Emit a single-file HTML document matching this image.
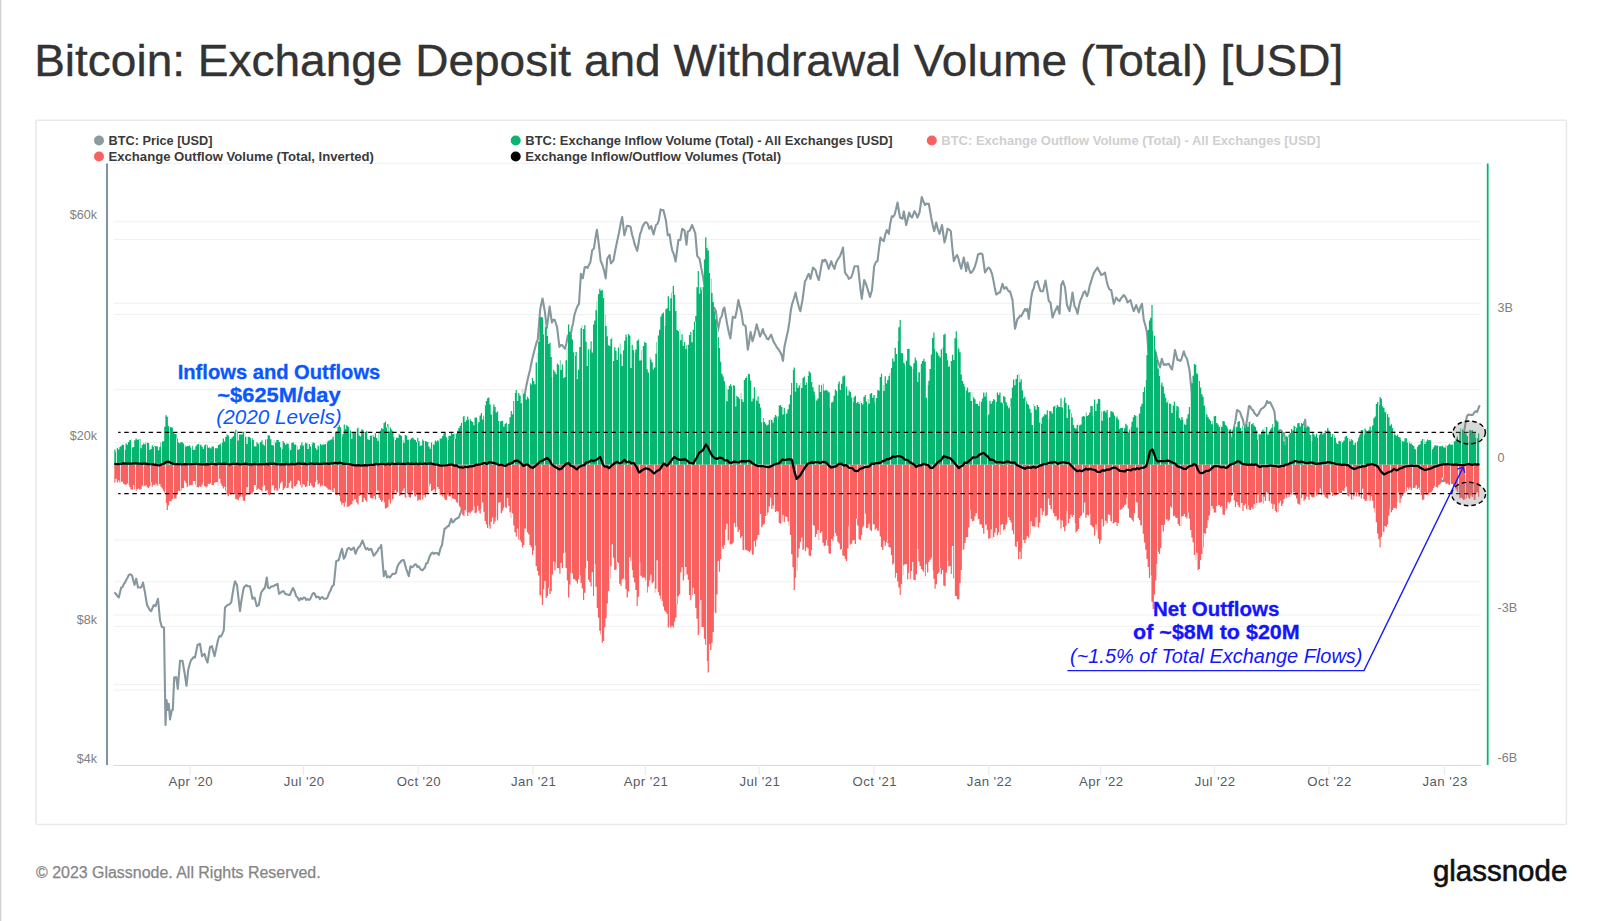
<!DOCTYPE html>
<html lang="en"><head><meta charset="utf-8"><title>Bitcoin: Exchange Deposit and Withdrawal Volume (Total) [USD]</title>
<style>
html,body{margin:0;padding:0;background:#fff}
body{width:1600px;height:921px;overflow:hidden;position:relative;font-family:"Liberation Sans",sans-serif}
svg{position:absolute;left:0;top:0;display:block}
text{font-family:"Liberation Sans",sans-serif}
.title{font-size:45.1px;fill:#333;stroke:#333;stroke-width:0.35px}
.leg{font-size:12.4px;font-weight:700;fill:#3a3a3a}
.legoff{font-size:12.4px;font-weight:700;fill:#cfcfcf}
.ax text{font-size:12.6px;fill:#808080}
.xl text{font-size:13.2px;fill:#555b62;text-anchor:middle;letter-spacing:0.45px}
.grid line{stroke:#f0f0f0;stroke-width:1}
.tick line{stroke:#e9e9e9;stroke-width:1}
.a1{fill:#0a57ff;stroke:#0a57ff;stroke-width:0;text-anchor:middle;font-size:19.8px}
.a2{fill:#1414ff;stroke:#1414ff;stroke-width:0;text-anchor:middle;font-size:19.6px}
.b{font-weight:700;stroke-width:0.3px}
.i{font-style:italic}
</style></head>
<body>
<svg width="1600" height="921" viewBox="0 0 1600 921">
<rect x="0" y="0" width="1600" height="921" fill="#fff"/>
<rect x="0" y="0" width="1.3" height="921" fill="#d2d2d2"/>
<text class="title" x="34.2" y="75.7" textLength="1309" lengthAdjust="spacingAndGlyphs">Bitcoin: Exchange Deposit and Withdrawal Volume (Total) [USD]</text>
<rect x="36" y="120.3" width="1530.4" height="704.2" rx="1.5" fill="#fff" stroke="#e9e9e9" stroke-width="1.6"/>
<g class="grid"><line x1="113.7" x2="1481" y1="163.3" y2="163.3"/><line x1="113.7" x2="1481" y1="221.8" y2="221.8"/><line x1="113.7" x2="1481" y1="239.5" y2="239.5"/><line x1="113.7" x2="1481" y1="303.2" y2="303.2"/><line x1="113.7" x2="1481" y1="314.6" y2="314.6"/><line x1="113.7" x2="1481" y1="389.7" y2="389.7"/><line x1="113.7" x2="1481" y1="442.5" y2="442.5"/><line x1="113.7" x2="1481" y1="539.9" y2="539.9"/><line x1="113.7" x2="1481" y1="581.8" y2="581.8"/><line x1="113.7" x2="1481" y1="615" y2="615"/><line x1="113.7" x2="1481" y1="626.6" y2="626.6"/><line x1="113.7" x2="1481" y1="684.4" y2="684.4"/><line x1="113.7" x2="1481" y1="690.1" y2="690.1"/></g>
<line x1="113.7" x2="1481" y1="765.4" y2="765.4" stroke="#d6d6d6" stroke-width="1"/>
<g class="tick"><line x1="190" x2="190" y1="765" y2="775"/><line x1="303.4" x2="303.4" y1="765" y2="775"/><line x1="418.2" x2="418.2" y1="765" y2="775"/><line x1="532.9" x2="532.9" y1="765" y2="775"/><line x1="645.3" x2="645.3" y1="765" y2="775"/><line x1="759.2" x2="759.2" y1="765" y2="775"/><line x1="874" x2="874" y1="765" y2="775"/><line x1="988.8" x2="988.8" y1="765" y2="775"/><line x1="1100.6" x2="1100.6" y1="765" y2="775"/><line x1="1214.4" x2="1214.4" y1="765" y2="775"/><line x1="1328.9" x2="1328.9" y1="765" y2="775"/><line x1="1444.4" x2="1444.4" y1="765" y2="775"/></g>
<polyline fill="none" stroke="#86989e" stroke-width="2.1" stroke-linejoin="round" stroke-linecap="round" points="115,593 116.2,594.3 117.5,596.2 118.8,597.5 121.2,587.5 122.5,587.2 123.8,584.1 125,582.5 126.2,580 127.5,577.8 128.8,575 130.4,574.2 132,575.5 134.5,585 136.2,578.8 138,587.5 139.6,587.5 141.2,587.5 143,582.5 145,592.5 147,605 148.4,607.5 149.8,610.1 151.2,611.2 153.8,605 155.5,606.2 158,598.8 160,620 161.8,627 164,627.5 165.5,725 166.5,700 168,710 168.8,703.8 170,719.5 171.8,710 172.8,710 174.2,677.5 176.2,677 177.8,688.8 180,660.8 182.5,660.8 184.5,672.5 186.5,685.8 188.2,670 189.8,663.7 191.2,660 192.5,658.5 193.8,657 195,657.5 197.5,645 200,643.8 202,656.2 204.5,653.8 206,659.1 207.5,662.5 210,647 212,646.2 214.5,656.2 216.2,648.7 218,640 219.4,636 220.9,636.5 222.3,634 223.8,630 225,607.5 227.5,605 228.8,604.7 230,603.7 231.2,602.5 232.5,594.3 233.8,586.8 235,581.2 237,585 238.5,598.2 240,611.2 241.2,601.9 242.5,594.4 243.8,587.5 245,586.3 246.2,585.2 247.5,586.2 250,586.2 252.5,598.8 254.5,597.5 256.8,606.2 258.8,605 261.2,592.5 262.5,590.7 263.8,589 265,587.5 266.8,577.5 268,587.5 269.5,588.2 271,586.7 272.5,586.2 273.8,586.1 275,585 276.2,584.9 277.5,583.8 279,593.8 280.6,592.8 282.2,591.4 283.8,591.2 285,593.6 286.2,594.3 287.5,594.6 288.8,594.9 290,595 291.5,590.9 293,588 294.6,591.3 296.2,596.2 297.8,597.7 299.2,600.5 300.8,598.1 302.2,599.4 303.8,597.5 305,597.8 306.2,599.9 307.5,599 308.8,600 310,599.4 311.2,596.9 312.5,593.8 313.8,592.9 315,594.3 316.2,597.3 317.5,596.8 318.8,597.1 320,599.1 321.2,597.6 322.5,597 323.8,598.8 325,598.7 326.2,598.8 327.5,597.5 329,593.3 330.5,590.5 332.1,586.4 333.8,585 336.2,561.2 338.8,560 340.4,553.8 342,548.8 343.8,558.8 345,556.9 346.2,552.9 347.5,548.8 348.8,547.9 350,548.8 351.2,550 353.8,547.5 355.5,553.8 357,550 358.5,547.3 360,546.2 362.5,540.5 365,547.5 366.2,549.3 367.5,548.1 368.8,550 371.2,548.8 373.8,555.8 375,554.4 376.2,552.6 377.5,551.2 378.8,548.2 380,547.8 381.2,545 383.8,576.2 385.5,571.2 387,577.5 388.5,576.3 390,577.5 392.5,573.8 394.1,574 395.8,573.2 397.2,567.3 398.8,563.8 400,562.6 401.2,561 402.5,560.2 403.8,560 406.2,568.8 408.8,576.2 410.5,566.2 411.9,567.3 413.4,566.3 414.8,564.3 416.2,564.5 417.5,567.1 418.8,566.3 420,568.3 421.2,570 422.5,570.3 423.8,568.8 425,567.5 426.2,563.3 427.5,563.2 428.8,558.8 430,555.7 431.2,553.8 432.5,552.5 433.8,553.9 435,553 436.2,553.3 437.5,553.1 438.8,555 440.4,548.7 442,545 444.5,528.8 445.9,528.2 447.3,526.3 448.8,526.2 451.2,518.8 452.5,522.5 453.8,521.6 455,519.6 456.2,518.8 458.8,517.5 461.2,511.2 462.6,505.5 464,500 465.5,499.5 467,495.9 468.5,494.2 470,492 471.3,489.2 472.7,483 474,480 475.9,471.9 477.7,466 479.4,465.3 481,462 482.3,459.6 483.7,454.3 485,451.7 486.4,461.9 487.7,474 490,465 491.3,462.4 492.7,459.7 494,455 495.3,456.4 496.7,461.1 498,462 499.3,461.9 500.7,459.7 502,458 503.5,459.6 504.9,460.5 506.4,463.7 508.2,457.9 510,455 511.3,443.5 512.6,428.2 513.9,416 515.5,418.7 517,420 518.5,415.2 520,412 521.3,409 522.6,404.3 523.9,400 526,387.5 528,378 530,370 532,360 534,352 535.3,347.1 536.5,342.6 537.8,339.4 540.2,309.4 542.5,298.5 544.8,311.2 546.8,328 548.2,318 549.6,306.6 551.9,322.5 553.3,319.7 554.7,319.7 557.1,327.2 559.4,346.9 560.8,345.1 562.2,345 563.6,347.1 565,348.8 566.4,343.3 567.8,335.6 569.2,336 570.6,335.6 571.9,328 573.1,323.2 574.4,315 575.9,310.3 577.5,306 579,303.8 580.9,273.8 582.8,278.4 584.7,267.2 586.1,266.9 587.5,268 588.9,265.1 590.3,262.5 592.2,250.3 594,248.4 595.5,237.6 596.9,229.7 599.1,246.6 600.6,260.6 602.5,265.3 604.1,270.8 605.7,278.4 607.2,258.8 609.6,255 610.9,263.4 613.4,260.6 615,251.8 616.6,243.8 618,237.4 619.4,230.6 620.8,222.7 622.2,217.1 624.4,235.3 626.9,225.9 628.8,226 630.6,226.9 632,234.2 633.4,239 634.7,244.5 635.9,247.4 637.2,250.9 638.6,243.3 640,234.4 641.2,231.3 642.5,226.6 643.8,224.4 645,222.6 646.2,222.3 647.5,223.5 649.4,228.8 651.2,226 653.5,234.4 656,225 657.4,224 658.8,220.3 660.6,209.4 662,210.3 663.4,210 665.9,220.3 667.8,235.3 669.6,234.4 670.9,243.8 672.2,250.3 673.9,254.4 675.6,261.6 677,251.2 678.4,240 680.3,240 682.2,228.8 684.6,230.6 686.5,244.7 687.8,231.6 689.7,230.6 692.1,225 693.7,229.1 695.3,233.4 697.2,255.9 699.6,258.8 701.2,267.9 702.8,275.6 704.7,287.8 706.5,300 708,330 709.5,318 711,322 712.5,312 714,307.5 716,311.2 717.8,331 719.2,323.8 720.6,317.8 721.9,316 723.1,309.6 724.4,307.5 725.8,316.1 727.2,324.4 728.8,332.2 730.4,338.4 732.8,316.9 735.2,317.8 736.8,310.2 738.4,300 739.8,306.4 741.2,311.2 743.1,324.4 745.6,326.2 747.8,349.7 749.2,341.5 750.6,331.9 752.5,341.2 753.9,336.6 755.2,331.3 756.6,324.4 758.3,330 760,336.6 761.4,333.4 762.8,329 764.2,333.6 765.6,335.6 767,338.7 768.4,339.4 769.8,336.8 771.2,334.7 772.5,338.7 773.8,342.1 775,344 776.2,346.1 777.5,348.2 778.8,349.7 780.2,352 781.6,355 783,361 784.4,347 786.2,338.8 788.1,330 789.4,321.9 790.6,311.8 791.9,304.7 793.8,299 795.6,292.5 797.2,300.3 798.7,306.2 800.3,311.2 802.5,300 805,281.2 806.2,279.5 807.5,275.9 808.8,273.8 810.5,278.8 813,267.5 815.5,270 817.1,275.8 818.8,280 820,273.6 821.2,266.5 822.5,260 823.8,261.5 825,259.5 826.2,261.2 828.8,268.8 831.2,261.2 832.9,265.8 834.5,268.8 836,262.9 837.5,260 840,256.2 841.5,252.2 843,247.5 845,272.5 846.2,274.5 847.5,275.8 848.8,278.8 851.2,277.5 852.9,272.5 854.5,266.2 856.2,266.2 858,266.2 859.2,277.4 860.5,289.3 861.8,298.8 864.2,280 865.9,283.6 867.5,288.8 870,297 872,290 874.2,266.2 875.9,262.2 877.5,261.2 879,248.7 880.5,237.5 882.1,239.9 883.8,241.2 885.2,234.7 886.8,230 888.8,233.8 890.2,223.9 891.8,216.2 893.1,216.9 894.5,215 896,209.3 897.5,202.5 900,217.5 902.5,218.8 903.8,211.2 906.2,225 907.8,218.6 909.2,212.5 910.6,216.3 912,217.5 914.5,211.2 916,213.8 917.5,217.5 919.5,212.5 921.8,197 923.4,201.5 925,205 926.2,203.6 927.5,203.9 928.8,203.8 931.2,217.5 932.8,225.4 934.2,231.2 936.2,222.5 937.9,229.5 939.5,233.8 942,225 944.5,242.5 946,236.8 947.5,228.8 949.1,229.6 950.8,231.2 952.2,246.5 953.8,261.2 955.4,257.5 957,255 958.4,258.4 959.8,264.2 961.2,268.8 963.8,257.5 966.2,271.2 967.5,262.5 969,268.8 970.5,273 971.8,272.3 973.2,270 974.5,267.5 976.2,262.4 978,254.5 979.5,253.8 981,253.4 982.5,254.5 985,272.5 986.2,270.7 987.5,268.4 988.8,267.5 990.4,269.7 992,273.8 993.4,280.4 994.8,288 996.2,294.5 997.5,293.8 998.8,292.6 1000,292.5 1002.5,283.8 1004.2,288.8 1006.2,287 1007.5,289.5 1008.8,291.4 1010,291.2 1012.5,300 1015,328.8 1017.5,318.8 1018.8,317.8 1020,315.7 1021.2,316.2 1023.8,311.2 1025,308.9 1026.2,310.8 1027.5,308.8 1028.8,318.8 1031.2,297.5 1032.5,291 1033.8,288.2 1035,282.5 1037.5,281.2 1039,286.5 1040.5,291.2 1043,291.2 1045.5,280.5 1047.1,290.3 1048.8,301.2 1050.5,302.5 1052.5,317.5 1055,311.2 1057.5,306.2 1059.5,313.8 1061.2,285 1063,281.2 1065,287.5 1067,305 1069.5,311.2 1071,302.8 1072.5,292.5 1074.5,306.2 1076,308.5 1077.5,313.8 1079,305.7 1080.5,300 1082,296.9 1083.5,292.6 1085,291.2 1087,296.2 1088.4,292.3 1089.8,285.4 1091.2,281.2 1092.5,276.8 1093.8,273.1 1095,271.2 1097.5,267.5 1098.8,270.4 1100,272.3 1101.2,275 1102.5,274.6 1103.8,273.8 1105,272.5 1106.5,280.4 1108,286.2 1109.6,289.6 1111.2,290 1113.8,303.8 1116.2,297.5 1117.9,300 1119.5,301.2 1120.9,298.2 1122.3,297 1123.8,295 1125,296.5 1126.2,298.4 1127.5,302.5 1129,301.2 1130.5,300 1132.1,306.3 1133.8,311.2 1136.2,305 1138.8,312.5 1140.4,307.1 1142,303.8 1143.8,320 1145.4,325.5 1147,332.5 1148.8,357.5 1150,372 1151.5,362 1153,368 1155,350 1157.5,360 1160,367.5 1161.8,358.8 1163.8,365 1165,364.2 1166.2,365 1167.5,364.1 1168.8,363.8 1170.4,367 1172,369.5 1173.5,360.6 1175,350 1177.5,360 1178.8,359.7 1180,360.9 1181.2,360 1183.8,351.2 1185.4,356.3 1187,358.8 1189.5,370 1191.2,387.5 1192.5,405 1193.5,430 1195,436 1196.5,442 1197.5,456 1199,448 1201,437 1202.5,437.7 1204,441 1205.5,440.9 1207,438 1208.5,440.7 1210,442 1211.4,443.4 1212.8,447 1214.2,449.7 1215.6,448.3 1217,446 1218.3,445.3 1219.7,441.6 1221,440 1223,436 1224.5,438.2 1226,440 1227.5,446.2 1229,450 1230.5,445.9 1232,440 1234,428 1235.5,420.4 1237,410 1238.5,410.9 1240,412 1241.5,416.5 1243,420 1245,431 1247,420 1249,406 1250.3,406.4 1251.7,409.4 1253,410 1254.3,413 1255.7,414.5 1257,416 1258.5,414.2 1260,411 1261.5,408.6 1263,408 1264.3,406.9 1265.7,404.9 1267,401 1268.5,403 1270,402 1271.5,405.1 1273,408 1274.5,412 1276.4,432 1278.2,431.9 1280,430 1281.3,430.4 1282.7,433.3 1284,433 1286.5,446 1289,443 1290.3,443.5 1291.7,441.2 1293,441 1294.6,444.3 1296.1,450.1 1297.7,455 1300,450 1302,430 1303.6,425 1305.2,419.7 1306.5,440 1309,446 1310.2,449.6 1311.5,451.5 1312.8,452.7 1314,457 1315.5,455.5 1317,452 1318.3,449.9 1319.7,451.6 1321,450 1322.3,448.3 1323.7,448.1 1325,448 1326.2,449.5 1327.5,448 1328.8,449.7 1330.4,443.7 1332,440 1333.5,441.1 1335,442 1336.5,446.2 1338,449 1339.3,449.8 1340.7,448.9 1342,448 1343.5,451.4 1345,452 1346.4,451.9 1347.8,453.3 1349.2,450.5 1350.6,450.9 1352,451.7 1353.3,451.2 1354.7,449.9 1356,450 1357.5,446.2 1359,441 1361,434 1362.5,435.4 1364,436 1365.5,437.1 1367,438 1368.5,437.1 1370,434 1372.4,430.8 1374,437 1376,458 1377.4,488.6 1378.6,468 1380,476 1381.3,477.1 1382.7,477.2 1384,478.7 1385.3,478.4 1386.7,480 1388,479 1389.5,483.9 1390.9,485.3 1392.4,489.9 1395,483 1396.3,483.1 1397.7,482.5 1399,480 1400.5,478.1 1402.1,476.2 1403.6,474 1405.1,473.4 1406.5,474.8 1408,475 1409.3,474 1410.7,473.3 1412,472 1413.3,470.2 1414.7,472.8 1416,471 1417.5,469.4 1418.9,467.3 1420.4,465.9 1422,470 1423.5,475 1425,478 1426.5,480.4 1427.9,482.4 1429.3,481.6 1430.6,481.4 1432,480 1433.2,478.9 1434.5,480.6 1435.8,480.5 1437,481 1438.5,482.5 1439.9,482.5 1441.3,480.4 1442.8,481.2 1444.2,480.7 1445.6,479.2 1447,480 1448.3,479.1 1449.7,479.7 1451,478 1452.5,477.3 1454,474 1455.5,471.9 1457,470 1459,453.9 1461.5,432.7 1464,432 1465.5,423.4 1467,416 1468.5,414.5 1470,415 1471.3,414.7 1472.7,415 1474,413 1475.5,411.3 1477,412 1479.4,406"/>
<path d="M114.3,464.8V449.6H115.5V452.2H116.8V448.1H118V449.6H119.3V446.9H120.5V445.9H121.8V444.5H123V445.1H124.3V449.9H125.5V443.6H126.8V444.7H128V442H129.3V440H130.5V439.8H131.8V447.5H133V447H134.2V440.3H135.5V438.5H136.7V439.8H138V439.6H139.2V439.3H140.5V448.2H141.7V445.1H143V443.6H144.2V444.3H145.5V442.5H146.7V442.8H148V443H149.2V450H150.4V449H151.7V445.3H152.9V446.9H154.2V446.1H155.4V446.2H156.7V446.3H157.9V450.2H159.2V447.1H160.4V442.4H161.7V441.6H162.9V441.2H164.2V426.8H165.4V415.3H166.7V416.7H167.9V425.9H169.1V426.9H170.4V427H171.6V427.7H172.9V432.5H174.1V433.7H175.4V433.9H176.6V438.5H177.9V442.4H179.1V443.2H180.4V441.9H181.6V442.3H182.9V443.4H184.1V445H185.4V446.7H186.6V446H187.8V445.9H189.1V445.4H190.3V447.4H191.6V445.7H192.8V449.7H194.1V449.7H195.3V446.3H196.6V444.5H197.8V444H199.1V445.2H200.3V444.7H201.6V446.7H202.8V449.1H204V445.6H205.3V444.3H206.5V445.2H207.8V447.7H209V447.5H210.3V448.4H211.5V446.5H212.8V446.4H214V448H215.3V448.2H216.5V448.2H217.8V444.9H219V444.6H220.3V443.5H221.5V442.7H222.7V438.6H224V441.6H225.2V437H226.5V434.4H227.7V435.5H229V439.2H230.2V439H231.5V437.5H232.7V436.3H234V432.8H235.2V429.7H236.5V431.2H237.7V440.6H238.9V434.6H240.2V434.4H241.4V434.6H242.7V431.7H243.9V431.5H245.2V436.7H246.4V444.1H247.7V436.8H248.9V436.9H250.2V438.3H251.4V437.9H252.7V439.9H253.9V446.3H255.2V446.4H256.4V442.3H257.6V443.7H258.9V443.3H260.1V442H261.4V440.2H262.6V444.6H263.9V445.5H265.1V439.6H266.4V439.2H267.6V435.3H268.9V435.4H270.1V439.3H271.4V444.9H272.6V445.5H273.9V440.2H275.1V442.4H276.3V440.1H277.6V439.9H278.8V442H280.1V447.2H281.3V449H282.6V441.1H283.8V442.9H285.1V444.8H286.3V443.4H287.6V443.7H288.8V448H290.1V450.1H291.3V443H292.5V442.2H293.8V444.6H295V444.5H296.3V446.3H297.5V449.9H298.8V448.9H300V445.3H301.3V442.5H302.5V445.7H303.8V444.8H305V442.8H306.3V443.4H307.5V448.9H308.8V444H310V446.5H311.2V444.3H312.5V442.3H313.7V443H315V448H316.2V449.8H317.5V445.6H318.7V446.6H320V444H321.2V445.2H322.5V444.3H323.7V444.6H325V443.9H326.2V442.7H327.5V440.7H328.7V440.4H329.9V439.8H331.2V439.2H332.4V436.8H333.7V440.2H334.9V432.9H336.2V431.5H337.4V427H338.7V425H339.9V427.3H341.2V436.7H342.4V434H343.7V424.4H344.9V429H346.1V425.2H347.4V426.4H348.6V427.6H349.9V430.4H351.1V438.7H352.4V432.3H353.6V432.7H354.9V432.8H356.1V429.6H357.4V427.6H358.6V435.6H359.9V436.4H361.1V429.5H362.4V429.7H363.6V433.7H364.8V431.9H366.1V431H367.3V439.2H368.6V440.1H369.8V435.8H371.1V435.8H372.3V435.3H373.6V437.1H374.8V433.3H376.1V438H377.3V440.7H378.6V433.1H379.8V430.6H381.1V428H382.3V428.9H383.5V422.9H384.8V421.6H386V427.4H387.3V424.1H388.5V431.4H389.8V427.5H391V429.6H392.3V431.5H393.5V437.2H394.8V440.1H396V437.4H397.3V438.1H398.5V434.2H399.7V435H401V436H402.2V440.3H403.5V443H404.7V435.1H406V435.6H407.2V439.7H408.5V439.7H409.7V439.4H411V438.3H412.2V437.5H413.5V439.3H414.7V440H416V442H417.2V437.8H418.4V441.3H419.7V445.8H420.9V445.5H422.2V439.4H423.4V440.9H424.7V441H425.9V441.6H427.2V442H428.4V446.6H429.7V448.7H430.9V442.5H432.2V443.8H433.4V444.8H434.7V440.6H435.9V441.5H437.1V440.2H438.4V441.4H439.6V438.4H440.9V438.5H442.1V435.9H443.4V433.3H444.6V432.5H445.9V437.4H447.1V439.9H448.4V435.9H449.6V435.7H450.9V432.2H452.1V434.1H453.3V433.7H454.6V438.7H455.8V433.6H457.1V430.7H458.3V427.9H459.6V426.1H460.8V422.9H462.1V417.6H463.3V416H464.6V421.9H465.8V420.2H467.1V416.4H468.3V419.8H469.6V419H470.8V420.9H472V421.9H473.3V425.3H474.5V417.6H475.8V417.5H477V423.7H478.3V422.1H479.5V415.6H480.8V413H482V419.4H483.3V415.7H484.5V405.4H485.8V401H487V398.3H488.2V397.5H489.5V404.5H490.7V414.5H492V410.9H493.2V404.4H494.5V406.9H495.7V412.6H497V411.4H498.2V421.1H499.5V421.4H500.7V421.1H502V420.7H503.2V426.8H504.5V424H505.7V422.8H506.9V432.4H508.2V424.1H509.4V417.3H510.7V411.1H511.9V414.2H513.2V401H514.4V393.1H515.7V390H516.9V401.1H518.2V393H519.4V395.4H520.7V403.2H521.9V389.3H523.2V393.7H524.4V394H525.6V399.6H526.9V396.7H528.1V398.4H529.4V383.1H530.6V384.4H531.9V378.1H533.1V381.1H534.4V384.3H535.6V362.4H536.9V353.6H538.1V341.8H539.4V317H540.6V317H541.8V317.4H543.1V334.3H544.3V327.6H545.6V326.8H546.8V336H548.1V344.1H549.3V342.7H550.6V357.1H551.8V377H553.1V369.7H554.3V371.8H555.6V374.2H556.8V363.4H558.1V364.9H559.3V360H560.5V370H561.8V364.5H563V378H564.3V376.9H565.5V360.2H566.8V348.2H568V324.4H569.3V331.7H570.5V335H571.8V339.6H573V352.2H574.3V356.1H575.5V351.9H576.8V378.9H578V369.8H579.2V346.9H580.5V328.2H581.7V325.8H583V329H584.2V325.3H585.5V341.8H586.7V366.1H588V349.2H589.2V349.2H590.5V341.3H591.7V352.5H593V324.5H594.2V320.6H595.4V310.3H596.7V301.5H597.9V294.2H599.2V288.8H600.4V290.8H601.7V289.8H602.9V298H604.2V314.4H605.4V325.9H606.7V336.3H607.9V345.3H609.2V346.1H610.4V339.1H611.7V337.5H612.9V360.9H614.1V347.2H615.4V350.7H616.6V360H617.9V347.5H619.1V343.7H620.4V353.9H621.6V366.1H622.9V350.3H624.1V340.7H625.4V334.6H626.6V336.9H627.9V334H629.1V335.6H630.4V368H631.6V344.7H632.8V350H634.1V353.1H635.3V349.6H636.6V340.7H637.8V339.4H639.1V360.6H640.3V360.2H641.6V350.3H642.8V346.1H644.1V341.8H645.3V343H646.6V369.2H647.8V372.4H649V357H650.3V359.4H651.5V362.2H652.8V369.5H654V367.4H655.3V353.8H656.5V342H657.8V335.6H659V329.8H660.3V316.6H661.5V313.8H662.8V312.5H664V326.1H665.3V309.2H666.5V308.2H667.7V296.2H669V310.7H670.2V298.3H671.5V292.8H672.7V286H674V294.8H675.2V310.9H676.5V330H677.7V330.9H679V329.6H680.2V340.2H681.5V334.2H682.7V345.8H684V342H685.2V349H686.4V345.3H687.7V344.8H688.9V335H690.2V332.1H691.4V342.2H692.7V329.7H693.9V321.6H695.2V316.1H696.4V287.2H697.7V271H698.9V293.6H700.2V287.3H701.4V290.3H702.6V287H703.9V259.6H705.1V237.2H706.4V248.1H707.6V250.4H708.9V272.9H710.1V278.4H711.4V292.9H712.6V302.1H713.9V311.2H715.1V319.3H716.4V327.5H717.6V336.9H718.9V348H720.1V361.7H721.3V373.7H722.6V376.4H723.8V381.2H725.1V385.1H726.3V401.3H727.6V389.4H728.8V385.8H730.1V384.3H731.3V386.3H732.6V385H733.8V385.8H735.1V406.5H736.3V395.8H737.5V396.9H738.8V398.7H740V392.9H741.3V399.2H742.5V402H743.8V380H745V378.1H746.3V376.5H747.5V373.8H748.8V374.2H750V380.4H751.3V401.4H752.5V398.4H753.8V387.2H755V390.5H756.2V400.8H757.5V396.6H758.7V403.6H760V407.5H761.2V422.3H762.5V418H763.7V422.1H765V423.5H766.2V425.5H767.5V424.4H768.7V420.1H770V419.5H771.2V419.9H772.5V422.8H773.7V417.6H774.9V414.9H776.2V416.6H777.4V416.6H778.7V405.5H779.9V405H781.2V407H782.4V414.6H783.7V408H784.9V414H786.2V413.6H787.4V409.2H788.7V404.2H789.9V395H791.1V382.9H792.4V370.3H793.6V367.5H794.9V391.4H796.1V383.1H797.4V388H798.6V385.5H799.9V383.1H801.1V387.9H802.4V377.9H803.6V376.5H804.9V384.9H806.1V382.5H807.4V376.1H808.6V371.2H809.8V372.8H811.1V382.1H812.3V387.3H813.6V391.6H814.8V395H816.1V400.4H817.3V398.4H818.6V384.7H819.8V391.9H821.1V385H822.3V383.8H823.6V390.5H824.8V390.6H826.1V390H827.3V391.2H828.5V392.4H829.8V407.9H831V402.4H832.3V401.8H833.5V395.7H834.8V389.5H836V391H837.3V383.9H838.5V381.5H839.8V389.9H841V383.7H842.3V376.5H843.5V375.7H844.7V375H846V386.4H847.2V395.4H848.5V390.5H849.7V392.1H851V397.4H852.2V402.2H853.5V397.2H854.7V395.7H856V403H857.2V401.7H858.5V403.8H859.7V401.6H861V402.8H862.2V404.4H863.4V396.7H864.7V395H865.9V401.6H867.2V399.2H868.4V403.7H869.7V393.7H870.9V393H872.2V397.7H873.4V395.1H874.7V402.5H875.9V398.1H877.2V390.1H878.4V390.7H879.7V377H880.9V373.8H882.1V385.1H883.4V391H884.6V376.3H885.9V383.5H887.1V379.9H888.4V376.1H889.6V373.2H890.9V368.1H892.1V358.6H893.4V361.4H894.6V347.8H895.9V354.1H897.1V341.6H898.3V327.3H899.6V320H900.8V352.9H902.1V353.6H903.3V362.7H904.6V364.7H905.8V360.8H907.1V349.1H908.3V348.8H909.6V365.3H910.8V366.6H912.1V369.2H913.3V363.2H914.6V357.5H915.8V360.6H917V381.7H918.3V372.2H919.5V372.5H920.8V363.7H922V360.9H923.3V358.8H924.5V361.7H925.8V397.8H927V385.2H928.3V380.8H929.5V369H930.8V354.5H932V338.1H933.3V332.5H934.5V349.3H935.7V351.6H937V352.8H938.2V355.5H939.5V357.6H940.7V349.2H942V347.4H943.2V334.8H944.5V333.8H945.7V353.3H947V360.2H948.2V366.7H949.5V365.4H950.7V361.1H951.9V354.8H953.2V360.1H954.4V338.2H955.7V331.2H956.9V340.2H958.2V348.6H959.4V352.3H960.7V374.6H961.9V380.9H963.2V383.7H964.4V386.7H965.7V390.5H966.9V387.6H968.2V392.5H969.4V392.1H970.6V400.9H971.9V392H973.1V397.5H974.4V399.3H975.6V403.8H976.9V404H978.1V405.9H979.4V401.3H980.6V401.7H981.9V398.4H983.1V392.6H984.4V396.5H985.6V392.5H986.8V400.6H988.1V414.6H989.3V400.8H990.6V403.7H991.8V401.3H993.1V399H994.3V400H995.6V401.9H996.8V392.5H998.1V395H999.3V392.4H1000.6V402.3H1001.8V403.2H1003.1V396.1H1004.3V397.1H1005.5V402.3H1006.8V405.5H1008V408.3H1009.3V406.9H1010.5V398.3H1011.8V387.4H1013V379.5H1014.3V385.2H1015.5V378.9H1016.8V375H1018V374.6H1019.3V382.2H1020.5V379.2H1021.8V390.3H1023V398.3H1024.2V396.8H1025.5V400.7H1026.7V403.7H1028V404.8H1029.2V408.8H1030.5V412.7H1031.7V424.9H1033V404.6H1034.2V406.2H1035.5V409.7H1036.7V405H1038V406.9H1039.2V422.5H1040.4V424.1H1041.7V417.4H1042.9V416.3H1044.2V414.1H1045.4V414.8H1046.7V410.3H1047.9V419.5H1049.2V411H1050.4V411.3H1051.7V413.5H1052.9V406.7H1054.2V405.7H1055.4V407.7H1056.7V404.7H1057.9V406.5H1059.1V407H1060.4V398.3H1061.6V407.4H1062.9V401.1H1064.1V397.5H1065.4V403H1066.6V417.9H1067.9V404.9H1069.1V409.2H1070.4V412.9H1071.6V417.2H1072.9V424.7H1074.1V427.8H1075.4V428.8H1076.6V424.9H1077.8V423.7H1079.1V425.4H1080.3V424.4H1081.6V416.7H1082.8V416H1084.1V416.6H1085.3V412.8H1086.6V415.9H1087.8V414.9H1089.1V412.6H1090.3V406.1H1091.6V406.3H1092.8V415.8H1094V399.4H1095.3V411H1096.5V403.8H1097.8V398.8H1099V399.3H1100.3V411.5H1101.5V420.7H1102.8V411.3H1104V410.7H1105.3V412.5H1106.5V409.9H1107.8V418.1H1109V417.2H1110.3V411.2H1111.5V411.5H1112.7V412.4H1114V415.5H1115.2V417.9H1116.5V416.6H1117.7V419.6H1119V428.8H1120.2V428.1H1121.5V427.8H1122.7V427.8H1124V428.2H1125.2V423.8H1126.5V425.5H1127.7V432.3H1129V429.5H1130.2V426.9H1131.4V421.8H1132.7V417.3H1133.9V415H1135.2V415.7H1136.4V427.6H1137.7V415.7H1138.9V413.6H1140.2V406.6H1141.4V403.7H1142.7V392H1143.9V386.9H1145.2V380H1146.4V355H1147.6V330H1148.9V320.5H1150.1V317.7H1151.4V305H1152.6V331H1153.9V335.5H1155.1V352.1H1156.4V360H1157.6V368.5H1158.9V375.9H1160.1V385.1H1161.4V382.4H1162.6V386.4H1163.9V393.6H1165.1V397.8H1166.3V402.6H1167.6V400.6H1168.8V403.4H1170.1V403.9H1171.3V413.1H1172.6V405.6H1173.8V401.6H1175.1V411.1H1176.3V405.9H1177.6V406.8H1178.8V417.8H1180.1V419.7H1181.3V417.1H1182.6V419.8H1183.8V424.2H1185V424.7H1186.3V418.5H1187.5V414.2H1188.8V407.1H1190V394.2H1191.3V383.3H1192.5V375.7H1193.8V364H1195V364.7H1196.3V373.6H1197.5V374.6H1198.8V381H1200V387.6H1201.2V394.3H1202.5V396.7H1203.7V405.5H1205V408H1206.2V414.4H1207.5V417.1H1208.7V419.2H1210V420.7H1211.2V424.3H1212.5V420.9H1213.7V416.2H1215V416H1216.2V423H1217.5V424.5H1218.7V426.8H1219.9V425.7H1221.2V427.1H1222.4V421H1223.7V421.4H1224.9V424.7H1226.2V426.3H1227.4V428.4H1228.7V429.7H1229.9V429.3H1231.2V437.4H1232.4V429.9H1233.7V426.9H1234.9V424.2H1236.1V427.1H1237.4V422H1238.6V421H1239.9V427.9H1241.1V431.1H1242.4V425.5H1243.6V427.2H1244.9V428H1246.1V424.2H1247.4V426.7H1248.6V421.9H1249.9V421H1251.1V424.3H1252.4V423.3H1253.6V425.6H1254.8V427H1256.1V430.6H1257.3V439.8H1258.6V434.3H1259.8V434.6H1261.1V433.1H1262.3V429.5H1263.6V432.5H1264.8V427H1266.1V427.1H1267.3V434.7H1268.6V431.9H1269.8V429.4H1271.1V427.7H1272.3V423.9H1273.5V426.8H1274.8V420H1276V420.4H1277.3V421.7H1278.5V430.7H1279.8V431.8H1281V432.1H1282.3V434.1H1283.5V441.6H1284.8V445.1H1286V436.3H1287.3V437.3H1288.5V434.5H1289.7V433.1H1291V429.1H1292.2V430.4H1293.5V425.8H1294.7V427.1H1296V427.7H1297.2V423.3H1298.5V423H1299.7V426.4H1301V423H1302.2V424.1H1303.5V425.4H1304.7V427.5H1306V427.4H1307.2V425.7H1308.4V426.9H1309.7V434.9H1310.9V441.6H1312.2V432.9H1313.4V434.4H1314.7V436.4H1315.9V433.8H1317.2V438.1H1318.4V435.2H1319.7V433.4H1320.9V432.9H1322.2V434.6H1323.4V432.9H1324.7V430.8H1325.9V429.9H1327.1V428H1328.4V430.5H1329.6V432.5H1330.9V437.1H1332.1V434H1333.4V435.4H1334.6V437.8H1335.9V443.2H1337.1V444H1338.4V440.8H1339.6V441.3H1340.9V440.7H1342.1V442.3H1343.3V440.5H1344.6V436.7H1345.8V436H1347.1V437.9H1348.3V439H1349.6V441.2H1350.8V439.3H1352.1V440.2H1353.3V445.1H1354.6V443H1355.8V441.9H1357.1V441.3H1358.3V437.5H1359.6V434.9H1360.8V430H1362V430H1363.3V434.9H1364.5V428.4H1365.8V430.6H1367V430.9H1368.3V430.1H1369.5V426.5H1370.8V432.3H1372V425.4H1373.3V418.3H1374.5V416.4H1375.8V404H1377V401.9H1378.3V405.5H1379.5V397H1380.7V398.7H1382V406.2H1383.2V407.7H1384.5V412.2H1385.7V411.7H1387V413.9H1388.2V417.3H1389.5V425.8H1390.7V424.3H1392V428H1393.2V431H1394.5V434.5H1395.7V436.1H1396.9V434.8H1398.2V437.1H1399.4V437.4H1400.7V440.3H1401.9V441H1403.2V441.8H1404.4V438.4H1405.7V438H1406.9V442.4H1408.2V441.2H1409.4V443.6H1410.7V443.6H1411.9V445H1413.2V445.9H1414.4V449.1H1415.6V450H1416.9V446.7H1418.1V445H1419.4V444.3H1420.6V440.8H1421.9V439H1423.1V439.2H1424.4V443.9H1425.6V441.4H1426.9V439.4H1428.1V440.3H1429.4V439.9H1430.6V440.7H1431.9V449.3H1433.1V447.2H1434.3V444.9H1435.6V445.7H1436.8V445.5H1438.1V446.6H1439.3V446.2H1440.6V446.3H1441.8V445.8H1443.1V447.3H1444.3V447.6H1445.6V445.3H1446.8V445.8H1448.1V444.6H1449.3V443.7H1450.5V444.9H1451.8V444.6H1453V441.6H1454.3V441.3H1455.5V438.5H1456.8V436.6H1458V442.5H1459.3V431.9H1460.5V428H1461.8V429.6H1463V431.6H1464.3V433.1H1465.5V433.6H1466.8V436.1H1468V441.9H1469.2V429.7H1470.5V430.7H1471.7V430H1473V433.3H1474.2V431.9H1475.5V437.7H1476.7V438.2H1478V433.6H1479.2V464.8Z" fill="#06b56f"/>
<path d="M114.3,464.8V482.4H115.5V478.7H116.8V482.5H118V480.4H119.3V482.5H120.5V482H121.8V481.5H123V483.8H124.3V484.7H125.5V484.8H126.8V483.5H128V484.4H129.3V487.2H130.5V489.5H131.8V489.7H133V485.1H134.2V489.2H135.5V490.9H136.7V488.9H138V488.6H139.2V489.7H140.5V489.1H141.7V485.7H143V486.7H144.2V485.7H145.5V485.3H146.7V487.2H148V488H149.2V486.3H150.4V482.3H151.7V486.4H152.9V484.8H154.2V485.3H155.4V483.4H156.7V485.4H157.9V486H159.2V484H160.4V486.8H161.7V488.5H162.9V490.8H164.2V492.7H165.4V503H166.7V510H167.9V505.4H169.1V501.1H170.4V501.5H171.6V499.6H172.9V498.6H174.1V498.4H175.4V498.5H176.6V494.6H177.9V490.7H179.1V491.2H180.4V490.6H181.6V488.1H182.9V487.9H184.1V480.8H185.4V482.9H186.6V487.1H187.8V485.8H189.1V485.5H190.3V484.9H191.6V485.3H192.8V481H194.1V481.1H195.3V484.8H196.6V486.9H197.8V487.6H199.1V486.3H200.3V486.9H201.6V484.7H202.8V482.1H204V486H205.3V487.4H206.5V486.4H207.8V483.7H209V484H210.3V482.9H211.5V485.1H212.8V484.9H214V482.8H215.3V482.3H216.5V482H217.8V485.2H219V478.8H220.3V483.5H221.5V486.1H222.7V488.6H224V486.8H225.2V490.9H226.5V494.4H227.7V496.3H229V493.8H230.2V494.5H231.5V493.2H232.7V494H234V493.9H235.2V499H236.5V499.6H237.7V500.2H238.9V497.5H240.2V496.6H241.4V496.8H242.7V500.4H243.9V501H245.2V495.4H246.4V487.2H247.7V495H248.9V494.7H250.2V493.2H251.4V493.8H252.7V491.8H253.9V485.1H255.2V485.1H256.4V489.9H257.6V488.6H258.9V489.2H260.1V490.1H261.4V491.6H262.6V486.5H263.9V485.2H265.1V491.1H266.4V489.9H267.6V494.4H268.9V495.3H270.1V494.1H271.4V485.8H272.6V485H273.9V490.5H275.1V488.2H276.3V490.6H277.6V490.7H278.8V488.6H280.1V483.3H281.3V481.6H282.6V490H283.8V488.2H285.1V486.4H286.3V488.1H287.6V487.8H288.8V483.1H290.1V480.7H291.3V488.2H292.5V488.9H293.8V486.2H295V486.2H296.3V484.2H297.5V480.3H298.8V481.2H300V484.9H301.3V487.6H302.5V484.3H303.8V485H305V486.9H306.3V486.3H307.5V480.9H308.8V485.9H310V483.3H311.2V485.7H312.5V487.8H313.7V487.2H315V482H316.2V480.3H317.5V484.6H318.7V483.6H320V486.4H321.2V485.3H322.5V486.3H323.7V486.1H325V486.6H326.2V487.7H327.5V489.5H328.7V489.6H329.9V490H331.2V490.5H332.4V492.1H333.7V488.2H334.9V494.4H336.2V495H337.4V494.2H338.7V495.8H339.9V501.4H341.2V504.7H342.4V503H343.7V506.7H344.9V502.2H346.1V506.5H347.4V507H348.6V506H349.9V504.7H351.1V504.2H352.4V500.8H353.6V499.4H354.9V499.2H356.1V502.5H357.4V504.6H358.6V496H359.9V494.9H361.1V502.2H362.4V501.9H363.6V498.1H364.8V500.3H366.1V501.8H367.3V493.2H368.6V492.6H369.8V497.8H371.1V498.3H372.3V498.4H373.6V495.9H374.8V499.4H376.1V493.8H377.3V490.5H378.6V498H379.8V500H381.1V501.9H382.3V500.4H383.5V502.3H384.8V508.4H386V508.1H387.3V506.9H388.5V499.4H389.8V503.4H391V501.1H392.3V499.1H393.5V493.1H394.8V490.1H396V492.8H397.3V492H398.5V495.9H399.7V495.2H401V494.7H402.2V490.8H403.5V488.3H404.7V497.5H406V497.5H407.2V493.8H408.5V497H409.7V497.7H411V492.7H412.2V490.8H413.5V495.2H414.7V496.6H416V494.7H417.2V500.9H418.4V499.5H419.7V500H420.9V495H422.2V499.4H423.4V495H424.7V497.5H425.9V493.6H427.2V492.9H428.4V486.5H429.7V483.8H430.9V490.9H432.2V490.6H433.4V489.3H434.7V492.8H435.9V489.8H437.1V487H438.4V489.1H439.6V494.9H440.9V494.2H442.1V496.4H443.4V497.8H444.6V499.8H445.9V500H447.1V494.8H448.4V496.3H449.6V496.5H450.9V500.3H452.1V498.3H453.3V498.9H454.6V499.6H455.8V501.9H457.1V502.9H458.3V506H459.6V507.5H460.8V510H462.1V514.7H463.3V516H464.6V509.9H465.8V511.8H467.1V515.9H468.3V512.5H469.6V513.5H470.8V511.6H472V510.2H473.3V505.9H474.5V513.2H475.8V512.6H477V505.8H478.3V510.7H479.5V513.5H480.8V508.6H482V502.5H483.3V511.7H484.5V520.9H485.8V524.4H487V527.9H488.2V525.6H489.5V528.8H490.7V521.8H492V517.6H493.2V524.1H494.5V521.6H495.7V517.2H497V520.5H498.2V502.8H499.5V502.3H500.7V513.2H502V510.6H503.2V507.8H504.5V507.1H505.7V507.9H506.9V497.9H508.2V506H509.4V512.2H510.7V517.4H511.9V513.6H513.2V525.6H514.4V532.3H515.7V536.5H516.9V528.4H518.2V539.5H519.4V539.9H520.7V542.2H521.9V547.5H523.2V545.1H524.4V528.5H525.6V528.6H526.9V532.3H528.1V534.3H529.4V545.1H530.6V547.2H531.9V555.1H533.1V550.4H534.4V545.6H535.6V566H536.9V570.9H538.1V575.4H539.4V594.9H540.6V597.3H541.8V605H543.1V589.5H544.3V580.9H545.6V598.1H546.8V596H548.1V588.3H549.3V594H550.6V591.3H551.8V574.5H553.1V561.3H554.3V570.2H555.6V562.3H556.8V567.9H558.1V568.3H559.3V573.8H560.5V563H561.8V567.9H563V553.3H564.3V552.6H565.5V567.9H566.8V580.6H568V597.5H569.3V584.5H570.5V572.5H571.8V573.2H573V578.9H574.3V579.4H575.5V580.9H576.8V583.5H578V579.2H579.2V575.3H580.5V583.1H581.7V588.5H583V600H584.2V592.7H585.5V568.3H586.7V561.1H588V579.7H589.2V582H590.5V586.5H591.7V572.3H593V596.1H594.2V564.2H595.4V586.8H596.7V607.9H597.9V617.8H599.2V630.8H600.4V634.2H601.7V642.7H602.9V641H604.2V627.3H605.4V618.3H606.7V603.4H607.9V591H609.2V578.1H610.4V566.2H611.7V544.3H612.9V557.8H614.1V570.1H615.4V569.6H616.6V562.1H617.9V562.9H619.1V583.8H620.4V585.9H621.6V579.4H622.9V578.4H624.1V579.4H625.4V589.2H626.6V597.5H627.9V591.3H629.1V557.2H630.4V561.5H631.6V569.9H632.8V577.8H634.1V582.4H635.3V589.9H636.6V606H637.8V596.8H639.1V562.2H640.3V575.7H641.6V577.7H642.8V577.2H644.1V577.7H645.3V580.4H646.6V592.5H647.8V586.6H649V580.5H650.3V574.6H651.5V583.3H652.8V581.8H654V592.6H655.3V588.7H656.5V560.2H657.8V592.2H659V595.4H660.3V599.2H661.5V600.9H662.8V606.4H664V610.5H665.3V612H666.5V614.1H667.7V627.5H669V625.4H670.2V627.4H671.5V625.7H672.7V627.5H674V621.7H675.2V617.7H676.5V604.5H677.7V596.3H679V594.4H680.2V572.4H681.5V567.3H682.7V580.4H684V575.4H685.2V566.9H686.4V574.6H687.7V579.7H688.9V594.9H690.2V600.3H691.4V595.3H692.7V587.7H693.9V594H695.2V607.9H696.4V618.8H697.7V635H698.9V632.8H700.2V600H701.4V627.1H702.6V626.9H703.9V638.8H705.1V644.7H706.4V660.9H707.6V672.5H708.9V644.2H710.1V650.1H711.4V642.8H712.6V631.9H713.9V611.3H715.1V613.3H716.4V594.6H717.6V561H718.9V571.8H720.1V559H721.3V547.1H722.6V549H723.8V545H725.1V529.6H726.3V523.8H727.6V540.1H728.8V543.5H730.1V544.6H731.3V543.9H732.6V542.5H733.8V523H735.1V527.3H736.3V526.5H737.5V532.1H738.8V529.7H740V538.1H741.3V536.2H742.5V550H743.8V550.2H745V549.7H746.3V550.2H747.5V551H748.8V552.2H750V550.5H751.3V555H752.5V554.4H753.8V541H755V546.5H756.2V539.4H757.5V535H758.7V534.5H760V514H761.2V527.2H762.5V525H763.7V523.7H765V516H766.2V515.3H767.5V512.5H768.7V506.4H770V497.7H771.2V509.1H772.5V505.5H773.7V509.3H774.9V511.9H776.2V511H777.4V511.6H778.7V523.1H779.9V523.8H781.2V522.2H782.4V514.9H783.7V521.9H784.9V516.3H786.2V517.1H787.4V521.5H788.7V526.1H789.9V535H791.1V554.2H792.4V567.3H793.6V590H794.9V577.8H796.1V570.2H797.4V557.5H798.6V548.6H799.9V541.9H801.1V537.5H802.4V549.9H803.6V548.8H804.9V551.2H806.1V547.3H807.4V548.5H808.6V555.6H809.8V556.2H811.1V549.9H812.3V525.1H813.6V525.7H814.8V536.9H816.1V534H817.3V530H818.6V539.9H819.8V532.9H821.1V531.6H822.3V542.8H823.6V546.3H824.8V545.6H826.1V539.7H827.3V545.7H828.5V553.6H829.8V553.8H831V538.9H832.3V540.8H833.5V536.5H834.8V533.1H836V535.7H837.3V541.7H838.5V543.5H839.8V549.4H841V549H842.3V555.4H843.5V556.1H844.7V559.3H846V561.2H847.2V548.6H848.5V526.1H849.7V544.6H851V543.8H852.2V540.4H853.5V540.1H854.7V544.1H856V518.8H857.2V525.4H858.5V539H859.7V540H861V535.2H862.2V527.3H863.4V525.4H864.7V513.8H865.9V528.2H867.2V527.8H868.4V523.8H869.7V530H870.9V531.2H872.2V523.9H873.4V524.4H874.7V529.8H875.9V528.5H877.2V531.1H878.4V530.3H879.7V536.6H880.9V547H882.1V550H883.4V540.7H884.6V545.8H885.9V541.9H887.1V543.3H888.4V547H889.6V547.8H890.9V555.2H892.1V564.6H893.4V563.3H894.6V577.7H895.9V572.9H897.1V581.6H898.3V587.6H899.6V595H900.8V584.1H902.1V575.2H903.3V565.2H904.6V564H905.8V564.2H907.1V579.4H908.3V572.8H909.6V578.9H910.8V571H912.1V562H913.3V579.7H914.6V580H915.8V574.3H917V549H918.3V561.4H919.5V565.9H920.8V568.9H922V570.4H923.3V572.3H924.5V576.3H925.8V564.2H927V572.5H928.3V562.1H929.5V559.8H930.8V557.7H932V570.3H933.3V578.8H934.5V588.8H935.7V584.2H937V574H938.2V572.4H939.5V567.7H940.7V574.2H942V570.1H943.2V585.4H944.5V586.2H945.7V572.7H947V560.4H948.2V566.4H949.5V566.1H950.7V573.9H951.9V546.1H953.2V578.4H954.4V595.7H955.7V595.9H956.9V599.2H958.2V599.5H959.4V583.2H960.7V569.9H961.9V549.9H963.2V549.6H964.4V542.9H965.7V537.4H966.9V536.9H968.2V527.5H969.4V509.8H970.6V518.9H971.9V521.2H973.1V520.8H974.4V516.3H975.6V513.2H976.9V519.8H978.1V519.1H979.4V524.6H980.6V524.5H981.9V528H983.1V533.8H984.4V525.6H985.6V524.5H986.8V530.3H988.1V538.8H989.3V538.2H990.6V529.4H991.8V538.5H993.1V537H994.3V532.8H995.6V528H996.8V535.2H998.1V532.4H999.3V534.8H1000.6V524.9H1001.8V523.9H1003.1V530.4H1004.3V529.2H1005.5V524.8H1006.8V522.9H1008V517.2H1009.3V520H1010.5V522.5H1011.8V530.6H1013V534.3H1014.3V545.8H1015.5V546.9H1016.8V541.5H1018V558.9H1019.3V551.8H1020.5V558.8H1021.8V547.8H1023V540H1024.2V543H1025.5V539.4H1026.7V536.3H1028V537.8H1029.2V534.2H1030.5V521.2H1031.7V526.3H1033V526.3H1034.2V526.4H1035.5V517.2H1036.7V526.7H1038V527.5H1039.2V522.7H1040.4V508.3H1041.7V515.3H1042.9V511.4H1044.2V515.8H1045.4V516.1H1046.7V515.1H1047.9V498.6H1049.2V505H1050.4V509H1051.7V510.5H1052.9V513.2H1054.2V516.6H1055.4V516.3H1056.7V520.4H1057.9V519.4H1059.1V519.6H1060.4V528.6H1061.6V520.4H1062.9V527.2H1064.1V531.2H1065.4V525.7H1066.6V510.8H1067.9V523.2H1069.1V518.7H1070.4V514.7H1071.6V516.9H1072.9V515.1H1074.1V522.9H1075.4V532.5H1076.6V531H1077.8V529.1H1079.1V518H1080.3V516.1H1081.6V515H1082.8V512.7H1084.1V502.6H1085.3V517.8H1086.6V514.7H1087.8V515.7H1089.1V513.8H1090.3V524.9H1091.6V526.6H1092.8V527.5H1094V535.4H1095.3V524.4H1096.5V530.3H1097.8V538.8H1099V543.8H1100.3V540.2H1101.5V519.3H1102.8V526.6H1104V524.8H1105.3V520.7H1106.5V523.2H1107.8V514.3H1109V515H1110.3V521.1H1111.5V522.2H1112.7V523.6H1114V522.5H1115.2V522H1116.5V526H1117.7V522.9H1119V510.1H1120.2V509.8H1121.5V508.7H1122.7V507.2H1124V505.2H1125.2V504.6H1126.5V497.8H1127.7V508.4H1129V517.5H1130.2V518H1131.4V519.7H1132.7V521.5H1133.9V513.3H1135.2V502.1H1136.4V502.4H1137.7V518H1138.9V520.1H1140.2V525.5H1141.4V525.3H1142.7V533.8H1143.9V542.5H1145.2V549.8H1146.4V559.1H1147.6V567H1148.9V577.9H1150.1V575.4H1151.4V601.7H1152.6V609H1153.9V594.6H1155.1V580.6H1156.4V563.9H1157.6V551.7H1158.9V553.9H1160.1V548H1161.4V524.9H1162.6V531.6H1163.9V524.7H1165.1V519.4H1166.3V519.4H1167.6V521H1168.8V519.8H1170.1V506.6H1171.3V508H1172.6V516.2H1173.8V515.8H1175.1V517.6H1176.3V517.9H1177.6V523.9H1178.8V526H1180.1V525.6H1181.3V516.6H1182.6V515.9H1183.8V513.9H1185V516.9H1186.3V518.4H1187.5V512.4H1188.8V518.7H1190V530H1191.3V537.5H1192.5V542.2H1193.8V555H1195V559.4H1196.3V552.7H1197.5V570H1198.8V569.1H1200V559.9H1201.2V554.1H1202.5V547.5H1203.7V533.2H1205V533.8H1206.2V528H1207.5V520.2H1208.7V515.4H1210V510.5H1211.2V505.9H1212.5V508.7H1213.7V512.4H1215V512.5H1216.2V506H1217.5V505.6H1218.7V505.1H1219.9V507H1221.2V506.1H1222.4V514.5H1223.7V515H1224.9V510.7H1226.2V508.4H1227.4V501.9H1228.7V503.6H1229.9V501.7H1231.2V495.9H1232.4V492.6H1233.7V500.5H1234.9V506.9H1236.1V502H1237.4V505.3H1238.6V507.3H1239.9V507.7H1241.1V503H1242.4V511H1243.6V505.2H1244.9V503.8H1246.1V509.3H1247.4V505.4H1248.6V509.4H1249.9V510H1251.1V507.2H1252.4V509H1253.6V504.2H1254.8V507.7H1256.1V502.9H1257.3V494.5H1258.6V502.7H1259.8V502.5H1261.1V501.9H1262.3V503.6H1263.6V496.7H1264.8V500.9H1266.1V491.9H1267.3V493.9H1268.6V500.9H1269.8V502.7H1271.1V503.8H1272.3V509.1H1273.5V504.3H1274.8V510.9H1276V512.5H1277.3V511.9H1278.5V503.3H1279.8V500.7H1281V505.9H1282.3V503.7H1283.5V498.9H1284.8V497.6H1286V497.7H1287.3V493.9H1288.5V496.9H1289.7V494.6H1291V494.4H1292.2V494.9H1293.5V492.1H1294.7V495.4H1296V498.4H1297.2V503.6H1298.5V504.5H1299.7V505H1301V498H1302.2V493.6H1303.5V501.1H1304.7V499.3H1306V496.5H1307.2V496.8H1308.4V499.8H1309.7V493.7H1310.9V496.8H1312.2V497.6H1313.4V496.9H1314.7V491.3H1315.9V495.6H1317.2V494.4H1318.4V493.3H1319.7V488.4H1320.9V495.3H1322.2V493.7H1323.4V495.1H1324.7V496.9H1325.9V498.1H1327.1V498.8H1328.4V494H1329.6V495.6H1330.9V492.2H1332.1V495.9H1333.4V494.8H1334.6V495.4H1335.9V495H1337.1V490.6H1338.4V493.1H1339.6V492.9H1340.9V492.9H1342.1V490.4H1343.3V491.2H1344.6V488.1H1345.8V486.7H1347.1V495.4H1348.3V496.6H1349.6V493.8H1350.8V499.5H1352.1V500H1353.3V496.3H1354.6V492.3H1355.8V496.6H1357.1V492.6H1358.3V496.5H1359.6V496.6H1360.8V498.6H1362V488.7H1363.3V498.9H1364.5V501H1365.8V500.6H1367V500.7H1368.3V495.3H1369.5V500.7H1370.8V496.2H1372V500.8H1373.3V508.2H1374.5V512.5H1375.8V522.3H1377V533.6H1378.3V539.3H1379.5V547.5H1380.7V536.9H1382V535H1383.2V531.7H1384.5V525.9H1385.7V526.8H1387V524.4H1388.2V515.7H1389.5V508.7H1390.7V512.2H1392V510.1H1393.2V508.1H1394.5V507.7H1395.7V508.8H1396.9V502H1398.2V492.4H1399.4V503.1H1400.7V498.5H1401.9V495.9H1403.2V492.7H1404.4V492.7H1405.7V491.2H1406.9V487.4H1408.2V489.6H1409.4V487.6H1410.7V489.9H1411.9V487.7H1413.2V487.9H1414.4V487.7H1415.6V485.2H1416.9V489.1H1418.1V487.8H1419.4V489.9H1420.6V495.1H1421.9V500H1423.1V499.6H1424.4V492.3H1425.6V494.6H1426.9V496.1H1428.1V494.7H1429.4V492.8H1430.6V492H1431.9V490.6H1433.1V487.9H1434.3V485.9H1435.6V486.9H1436.8V487.5H1438.1V485H1439.3V484.2H1440.6V482.3H1441.8V477.8H1443.1V481.3H1444.3V481.9H1445.6V484.1H1446.8V483.4H1448.1V484.5H1449.3V485.2H1450.5V483.9H1451.8V484.1H1453V486.7H1454.3V486.8H1455.5V489.6H1456.8V491.7H1458V491.9H1459.3V498.2H1460.5V497.8H1461.8V498.8H1463V500H1464.3V499.3H1465.5V498.4H1466.8V495H1468V497.8H1469.2V498.7H1470.5V495.2H1471.7V496.9H1473V500H1474.2V499.7H1475.5V493.6H1476.7V492.2H1478V496.7H1479.2V464.8Z" fill="#f96161"/>
<path d="M116.5,464.8 V452.2M124.5,464.8 V445.1M131.5,464.8 V439.8M139.5,464.8 V439.6M146.5,464.8 V442.5M154.5,464.8 V446.9M161.5,464.8 V441.6M169.5,464.8 V426.9M176.5,464.8 V438.5M184.5,464.8 V445M191.5,464.8 V445.7M199.5,464.8 V445.2M206.5,464.8 V445.2M214.5,464.8 V448M221.5,464.8 V442.7M229.5,464.8 V439.2M236.5,464.8 V431.2M244.5,464.8 V431.5M251.5,464.8 V437.9M259.5,464.8 V443.3M266.5,464.8 V439.2M274.5,464.8 V440.2M281.5,464.8 V449M289.5,464.8 V448M296.5,464.8 V446.3M304.5,464.8 V444.8M311.5,464.8 V444.3M319.5,464.8 V446.6M326.5,464.8 V442.7M334.5,464.8 V440.2M341.5,464.8 V436.7M349.5,464.8 V427.6M356.5,464.8 V429.6M364.5,464.8 V433.7M372.5,464.8 V435.8M379.5,464.8 V433.1M387.5,464.8 V427.4M394.5,464.8 V437.2M402.5,464.8 V436M409.5,464.8 V439.7M417.5,464.8 V442M424.5,464.8 V440.9M432.5,464.8 V442.5M439.5,464.8 V441.4M447.5,464.8 V439.9M454.5,464.8 V438.7M462.5,464.8 V417.6M469.5,464.8 V419M477.5,464.8 V423.7M484.5,464.8 V405.4M492.5,464.8 V410.9M499.5,464.8 V421.4M507.5,464.8 V432.4M514.5,464.8 V393.1M522.5,464.8 V389.3M529.5,464.8 V383.1M537.5,464.8 V353.6M544.5,464.8 V327.6M552.5,464.8 V377M559.5,464.8 V360M567.5,464.8 V348.2M574.5,464.8 V356.1M582.5,464.8 V325.8M589.5,464.8 V349.2M597.5,464.8 V301.5M604.5,464.8 V314.4M612.5,464.8 V337.5M619.5,464.8 V343.7M627.5,464.8 V336.9M634.5,464.8 V353.1M642.5,464.8 V350.3M649.5,464.8 V357M657.5,464.8 V342M664.5,464.8 V326.1M672.5,464.8 V292.8M679.5,464.8 V329.6M687.5,464.8 V345.3M695.5,464.8 V321.6M702.5,464.8 V290.3M710.5,464.8 V272.9M717.5,464.8 V327.5M725.5,464.8 V381.2M732.5,464.8 V385M740.5,464.8 V392.9M747.5,464.8 V373.8M755.5,464.8 V390.5M762.5,464.8 V418M770.5,464.8 V419.5M777.5,464.8 V416.6M785.5,464.8 V414M792.5,464.8 V370.3M800.5,464.8 V383.1M807.5,464.8 V376.1M815.5,464.8 V395M822.5,464.8 V383.8M830.5,464.8 V407.9M837.5,464.8 V383.9M845.5,464.8 V375M852.5,464.8 V402.2M860.5,464.8 V401.6M867.5,464.8 V399.2M875.5,464.8 V402.5M882.5,464.8 V385.1M890.5,464.8 V373.2M897.5,464.8 V341.6M905.5,464.8 V364.7M912.5,464.8 V369.2M920.5,464.8 V372.5M927.5,464.8 V385.2M935.5,464.8 V349.3M942.5,464.8 V347.4M950.5,464.8 V365.4M957.5,464.8 V340.2M965.5,464.8 V386.7M972.5,464.8 V392M980.5,464.8 V401.3M987.5,464.8 V400.6M995.5,464.8 V400M1003.5,464.8 V403.2M1010.5,464.8 V406.9M1018.5,464.8 V374.6M1025.5,464.8 V400.7M1033.5,464.8 V404.6M1040.5,464.8 V424.1M1048.5,464.8 V419.5M1055.5,464.8 V407.7M1063.5,464.8 V401.1M1070.5,464.8 V412.9M1078.5,464.8 V423.7M1085.5,464.8 V412.8M1093.5,464.8 V415.8M1100.5,464.8 V411.5M1108.5,464.8 V418.1M1115.5,464.8 V417.9M1123.5,464.8 V427.8M1130.5,464.8 V426.9M1138.5,464.8 V415.7M1145.5,464.8 V380M1153.5,464.8 V331M1160.5,464.8 V385.1M1168.5,464.8 V400.6M1175.5,464.8 V411.1M1183.5,464.8 V419.8M1190.5,464.8 V394.2M1198.5,464.8 V374.6M1205.5,464.8 V408M1213.5,464.8 V420.9M1220.5,464.8 V425.7M1228.5,464.8 V428.4M1235.5,464.8 V424.2M1243.5,464.8 V425.5M1250.5,464.8 V421M1258.5,464.8 V439.8M1265.5,464.8 V427M1273.5,464.8 V423.9M1280.5,464.8 V431.8M1288.5,464.8 V437.3M1295.5,464.8 V427.7M1303.5,464.8 V425.4M1311.5,464.8 V441.6M1318.5,464.8 V435.2M1326.5,464.8 V429.9M1333.5,464.8 V435.4M1341.5,464.8 V440.7M1348.5,464.8 V439M1356.5,464.8 V441.9M1363.5,464.8 V434.9M1371.5,464.8 V432.3M1378.5,464.8 V405.5M1386.5,464.8 V411.7M1393.5,464.8 V431M1401.5,464.8 V440.3M1408.5,464.8 V441.2M1416.5,464.8 V450M1423.5,464.8 V439.2M1431.5,464.8 V440.7M1438.5,464.8 V446.6M1446.5,464.8 V445.3M1453.5,464.8 V441.6M1461.5,464.8 V428M1468.5,464.8 V441.9M1476.5,464.8 V437.7" stroke="#fff" stroke-opacity="0.8" stroke-width="1" fill="none"/>
<path d="M120.5,464.8 V482M128.5,464.8 V484.4M135.5,464.8 V490.9M143.5,464.8 V486.7M150.5,464.8 V482.3M158.5,464.8 V486M165.5,464.8 V503M173.5,464.8 V498.6M180.5,464.8 V490.6M188.5,464.8 V485.8M196.5,464.8 V484.8M203.5,464.8 V482.1M211.5,464.8 V482.9M218.5,464.8 V485.2M226.5,464.8 V490.9M233.5,464.8 V494M241.5,464.8 V496.6M248.5,464.8 V495M256.5,464.8 V485.1M263.5,464.8 V486.5M271.5,464.8 V494.1M278.5,464.8 V490.7M286.5,464.8 V486.4M293.5,464.8 V488.9M301.5,464.8 V484.9M308.5,464.8 V480.9M316.5,464.8 V482M323.5,464.8 V486.1M331.5,464.8 V490.5M338.5,464.8 V495.8M346.5,464.8 V506.5M353.5,464.8 V499.4M361.5,464.8 V502.2M368.5,464.8 V492.6M376.5,464.8 V493.8M383.5,464.8 V502.3M391.5,464.8 V501.1M398.5,464.8 V495.9M406.5,464.8 V497.5M413.5,464.8 V495.2M421.5,464.8 V495M428.5,464.8 V486.5M436.5,464.8 V489.8M443.5,464.8 V497.8M451.5,464.8 V500.3M458.5,464.8 V506M466.5,464.8 V511.8M473.5,464.8 V505.9M481.5,464.8 V508.6M488.5,464.8 V525.6M496.5,464.8 V517.2M504.5,464.8 V507.8M511.5,464.8 V517.4M519.5,464.8 V539.5M526.5,464.8 V528.6M534.5,464.8 V550.4M541.5,464.8 V597.3M549.5,464.8 V588.3M556.5,464.8 V562.3M564.5,464.8 V553.3M571.5,464.8 V572.5M579.5,464.8 V579.2M586.5,464.8 V568.3M594.5,464.8 V596.1M601.5,464.8 V634.2M609.5,464.8 V578.1M616.5,464.8 V562.1M624.5,464.8 V579.4M631.5,464.8 V569.9M639.5,464.8 V562.2M646.5,464.8 V592.5M654.5,464.8 V592.6M661.5,464.8 V600.9M669.5,464.8 V625.4M676.5,464.8 V604.5M684.5,464.8 V575.4M691.5,464.8 V595.3M699.5,464.8 V632.8M706.5,464.8 V660.9M714.5,464.8 V611.3M721.5,464.8 V547.1M729.5,464.8 V543.5M736.5,464.8 V526.5M744.5,464.8 V550.2M751.5,464.8 V555M759.5,464.8 V534.5M766.5,464.8 V515.3M774.5,464.8 V509.3M781.5,464.8 V522.2M789.5,464.8 V526.1M796.5,464.8 V570.2M804.5,464.8 V548.8M812.5,464.8 V549.9M819.5,464.8 V539.9M827.5,464.8 V539.7M834.5,464.8 V536.5M842.5,464.8 V549M849.5,464.8 V526.1M857.5,464.8 V518.8M864.5,464.8 V525.4M872.5,464.8 V531.2M879.5,464.8 V530.3M887.5,464.8 V541.9M894.5,464.8 V577.7M902.5,464.8 V575.2M909.5,464.8 V578.9M917.5,464.8 V549M924.5,464.8 V576.3M932.5,464.8 V570.3M939.5,464.8 V567.7M947.5,464.8 V560.4M954.5,464.8 V595.7M962.5,464.8 V549.9M969.5,464.8 V509.8M977.5,464.8 V519.8M984.5,464.8 V525.6M992.5,464.8 V538.5M999.5,464.8 V534.8M1007.5,464.8 V522.9M1014.5,464.8 V545.8M1022.5,464.8 V547.8M1029.5,464.8 V534.2M1037.5,464.8 V526.7M1044.5,464.8 V515.8M1052.5,464.8 V510.5M1059.5,464.8 V519.6M1067.5,464.8 V510.8M1074.5,464.8 V522.9M1082.5,464.8 V515M1089.5,464.8 V513.8M1097.5,464.8 V530.3M1104.5,464.8 V524.8M1112.5,464.8 V522.2M1119.5,464.8 V510.1M1127.5,464.8 V497.8M1135.5,464.8 V513.3M1142.5,464.8 V525.3M1150.5,464.8 V577.9M1157.5,464.8 V563.9M1165.5,464.8 V524.7M1172.5,464.8 V516.2M1180.5,464.8 V525.6M1187.5,464.8 V512.4M1195.5,464.8 V559.4M1202.5,464.8 V547.5M1210.5,464.8 V510.5M1217.5,464.8 V505.6M1225.5,464.8 V510.7M1232.5,464.8 V492.6M1240.5,464.8 V507.7M1247.5,464.8 V505.4M1255.5,464.8 V507.7M1262.5,464.8 V503.6M1270.5,464.8 V502.7M1277.5,464.8 V511.9M1285.5,464.8 V497.6M1292.5,464.8 V494.9M1300.5,464.8 V505M1307.5,464.8 V496.8M1315.5,464.8 V491.3M1322.5,464.8 V493.7M1330.5,464.8 V495.6M1337.5,464.8 V490.6M1345.5,464.8 V488.1M1352.5,464.8 V500M1360.5,464.8 V496.6M1367.5,464.8 V500.7M1375.5,464.8 V512.5M1382.5,464.8 V535M1390.5,464.8 V508.7M1397.5,464.8 V502M1405.5,464.8 V492.7M1412.5,464.8 V487.7M1420.5,464.8 V489.9M1427.5,464.8 V496.1M1435.5,464.8 V485.9M1443.5,464.8 V477.8M1450.5,464.8 V485.2M1458.5,464.8 V491.9M1465.5,464.8 V498.4M1473.5,464.8 V500" stroke="#fff" stroke-opacity="0.76" stroke-width="1" fill="none"/>
<line x1="118.2" x2="1476" y1="432.4" y2="432.4" stroke="#000" stroke-width="1.25" stroke-dasharray="4.5 3.62" stroke-dashoffset="2.1"/>
<line x1="118.2" x2="1476" y1="493.5" y2="493.5" stroke="#000" stroke-width="1.25" stroke-dasharray="4.5 3.62" stroke-dashoffset="2.1"/>
<polyline fill="none" stroke="#000" stroke-width="2.25" stroke-linejoin="round" stroke-linecap="butt" points="114.3,463.8 116.5,464 118.8,464 121,463.9 123.3,463.3 125.5,463.7 127.8,463.5 130,463.5 132,463.6 134,463.3 136,463.4 138,463.6 140,463.5 142,463.8 144,463.5 146,463.6 148,464.1 150,464 152.3,464.3 154.7,464.7 157.1,465.2 159.4,465.4 161.7,464.3 164,463.5 166.4,461.8 168.9,461.7 171.4,463.2 174,464 176,464.1 178,464.2 180,464.1 182,464.4 184,464 186,464.3 188,464 190,464.2 192,464.2 194,464 196,463.9 198,464.2 200,464.2 202,464.3 204,464.3 206,464.1 208,464.3 210,464 212,463.9 214,464 216,464.4 218,463.9 220,463.9 222,463.8 224,463.7 226,463.9 228,464.2 230,464.4 232,463.9 234,463.9 236,463.8 238,463.8 240,464.4 242,464.1 244,463.8 246,463.6 248,464.3 250,464.2 252,464.3 254,463.8 256,464.1 258,464.3 260,464 262,464.1 264,464.4 266,463.7 268,464.5 270,463.5 272,463.9 274,463.5 276,464.2 278,464.1 280,464.3 282,464.2 284,464.3 286,463.9 288,464.3 290,464.1 292,463.8 294,464.3 296,463.8 298,463.6 300,463.5 302,463.8 304,463.6 306,464.2 308,464.2 310,463.6 312,463.5 314,463.8 316,463.6 318,463.8 320,463.8 322.2,463.9 324.3,463.5 326.5,463.5 328.7,463.8 330.8,463.3 333,463.3 335.3,462.9 337.7,463.4 340,462.6 342,463.4 344,463.8 346,463.9 348,464 350.2,464.2 352.3,464.8 354.5,465.3 356.7,465.3 358.8,465.1 361,465.7 363.1,465.3 365.2,465.2 367.3,465.4 369.4,465 371.6,464.8 373.7,464.9 375.8,463.9 377.9,464.3 380,464 382,463.8 384,464.1 386,464.5 388,463.6 390,464.5 392,463.4 394,464 396,463.9 398,463.6 400,463.9 402,463.8 404,463.8 406,464.1 408,463.3 410,463.8 412,463.7 414.1,464.1 416.1,463.5 418.2,464.1 420.2,463.5 422.3,464 424.3,463.5 426.4,463.8 428.4,463.7 430.5,463.4 432.5,463.8 434.9,464.4 437.2,464.7 439.6,465.4 442,465.7 444,465.5 446,465.3 448,465 450,464.5 452,464.5 454.2,465.7 456.5,465.4 458.8,467.1 461,467.3 463.2,467.7 465.5,466.8 467.8,467.1 470,466.4 472,466.3 474,465.8 476,464.9 478,464.6 480,464.5 482.2,463.7 484.5,463 486.8,463.9 489,462.3 491,462.4 493,462.9 495,463.4 497,464 499.1,465 501.3,464.9 503.5,465.5 505.6,465.9 507.7,464.5 509.9,463.6 512,463 514.8,460.8 517.5,460.7 520.5,462.6 523.4,465.9 525.8,464.7 528.2,464.7 530.6,467.2 533,467.8 535.4,465.9 537.7,464 539.9,461.5 542,461 544.6,459.4 547.2,458 549.6,460.4 552,464.7 554.3,466.4 556.7,467.7 559,469.4 561.5,468.6 564,466 566.3,463.9 568.6,463 570.8,465.7 573,466.5 576.9,469.4 579.5,466.8 582,465.5 584.2,465.2 586.4,462.3 588.8,462.2 591.1,460.3 593.5,461.1 597,459.5 600.2,456.9 603,464.7 605,466.7 607,466.5 609,468.3 612,465.3 614.9,463 617.3,461.8 619.6,463.4 622,462.3 624.4,459.9 626.8,462.3 629.2,461.5 631.5,463.4 633.9,463 636.5,467 639.1,472.5 642.5,470 645.8,468.3 649.3,469.4 651.7,471.2 654.1,473.5 657,471 660,469.4 663.6,463.5 667.2,465.9 671,461 674.3,456.9 677.2,458.9 680.2,459.9 682.6,459.6 684.9,459.3 687.3,460.7 689.3,462.7 691.3,463 693.3,463.5 696.5,458 699.2,452.8 702.8,450.4 705.9,444.5 707.9,447.2 709.9,451.6 712.3,456 714.7,458 717,458.9 719.4,457.6 722.2,458.2 725,460.5 727.1,460.1 729.2,462.5 731.3,463 734.1,461.6 737,462 739.1,462.3 741.1,461.3 743.2,461.1 746.2,461.4 749.1,460.7 752,462.9 755,464.7 757.3,465.8 759.7,466.2 762,466 764.4,466.5 766.9,466.9 769.3,467.1 771.7,465.9 774,464.7 776.4,463.7 778.8,463.5 782.4,459.5 784.7,460.2 787,459.5 789.5,459.1 791.9,459.9 794.2,470.6 796.6,478.9 800.2,475.4 804,469 807.5,463.8 809.6,463.1 811.8,462.4 813.9,462.7 816,462 818.2,462.1 820.5,462.9 822.8,461.8 825,462 827.1,463.5 829.2,466 831.2,467.5 833.8,466.8 836.2,466.1 838.8,463.8 841.2,463.7 843.8,465.6 846.2,465 849.1,467.8 852,468 854.8,470.8 857.5,471.2 860,469 862.5,468.1 865,467 867.2,466.9 869.5,466.3 871.8,463.6 874,464 876.1,463 878.2,463.2 880.4,462.6 882.5,461.2 884.7,460.6 886.8,459 889,459 891,458.1 893,456.5 895,457 897.5,456.1 900,456.2 902.5,457.3 905,459.6 907.5,460 909.7,462 911.9,463.3 914.1,464.6 916.2,467 918.8,465.4 921.2,465.3 923.8,463.8 925.9,464.7 928.1,465 930.3,467.8 932.5,468 935.2,465.2 938,462 940.9,460.3 943.8,456.2 945.8,456.9 947.9,457.7 950,458 952.5,460.6 955,463.5 958.8,468 960.8,466.4 962.9,465.4 965,462.5 967,462.8 969,460.9 971,459.3 973,457.4 975,457.5 977,457 979,455 981.4,453.7 983.8,453 985.8,455 987.9,456.6 990,460 992,459.4 994,460.5 996,462.4 998,462.2 1000,462 1002.1,462.6 1004.2,462.6 1006.2,461.7 1008.3,461.6 1010.4,462.6 1012.5,462.5 1014.7,462.5 1016.8,465.1 1019,466 1021,467 1023,467.9 1025,468.8 1027.1,467.6 1029.2,467.3 1031.2,467.8 1033.3,466.9 1035.4,467.6 1037.5,467 1039.7,465.6 1041.8,465.2 1044,464 1046,464 1048,463.2 1050,462.5 1052,462.6 1054,462 1056,462.4 1058,463.8 1060,462.8 1062.2,462.3 1064.4,462.4 1066.6,462.9 1068.8,463 1070.9,465.3 1073,467.5 1075.2,469.8 1077.5,471.2 1079.7,470.5 1081.8,471.2 1084,470 1086,468.7 1088,469.7 1090,468.8 1092.5,469.5 1095,470 1097.5,471.9 1100,472 1102.3,470.4 1104.7,470.7 1107,469.5 1109.2,469.7 1111.5,468.5 1113.8,467.5 1115.9,467.8 1118,469.5 1120.2,471 1122.5,471.2 1124.7,471.5 1126.8,469.9 1129,470 1131,470.3 1133,469 1135,469.5 1137,468.2 1139,469 1141,468 1143.6,467.7 1146.2,466.2 1148.5,458 1150,451.2 1152.5,449.5 1154.5,455 1156.2,460 1158.5,461.5 1160.8,461 1163,461 1165.3,461.1 1167.7,460.7 1170,461.2 1172.5,462.5 1175,463.5 1177.5,466.3 1180,467 1182,467.9 1184,468.9 1186,469 1188,467 1190,466 1192,465.6 1194,464 1196,465 1198,470 1200,473 1202,473.2 1204,472.3 1206,470.8 1208,471 1210,470 1212,468 1214,466.4 1216,466 1218.5,466.3 1221,467.3 1223.5,467 1226,468 1228,466.9 1230,464.9 1232,464 1234.5,463.3 1237,461.4 1239.2,461.5 1241.5,463.2 1243.8,464.2 1246,464.4 1248,464.8 1250,464.5 1252,464.5 1254,464.8 1256,464.4 1258,465.9 1260,467 1262.5,466.1 1265,466 1267.5,466.2 1270,465.6 1272,465.6 1274,466 1276,466.1 1278,466.8 1280,466.4 1282,465.8 1284,465.8 1286,464.5 1288,464.4 1290.3,463.1 1292.7,462.4 1295,461 1297.2,461.5 1299.5,462.2 1301.8,461.6 1304,462.4 1306,463 1308,463.1 1310,462.4 1312,462.6 1314,463.2 1316,463.8 1318,463.6 1320,463.6 1322,463.1 1324,462.8 1326,462.8 1328,462 1330,462.4 1332,462.8 1334,463.3 1336,464 1338,464.3 1340,464.4 1342,464.9 1344,464.5 1346,465 1348,465 1351,467.5 1354,469 1356,468.5 1358,467.5 1360,467.2 1362,466.4 1364,466.5 1366,466 1368,464.5 1370,464.5 1372,464 1374,464.8 1376,465.4 1378,467 1381,471.5 1384,474.4 1386.5,473.2 1389,472 1391.5,471.2 1394,469 1397,470.4 1400,468.5 1402,468 1404,467 1406,466.3 1408,466.1 1410,465.8 1412,465.6 1414,466 1416,465.8 1418,466 1421.5,468.5 1425,470 1428.5,469.2 1432,468 1434,466.9 1436,466.3 1438,465.7 1440,465 1442,464.6 1444,464.2 1446,464.3 1448,464 1450,464.5 1452,464.6 1454,464.7 1456,464.4 1458,464.9 1460,465 1462,465.1 1464,465.1 1466,464.6 1468,464 1470,464.4 1472.4,464.9 1474.8,464.1 1477.1,464.7 1479.5,464.4"/>
<ellipse cx="1469.2" cy="432.5" rx="16.2" ry="11.5" fill="#808080" fill-opacity="0.3" stroke="#000" stroke-width="1.4" stroke-dasharray="4.6 3"/>
<ellipse cx="1468.6" cy="494" rx="17" ry="11.7" fill="#808080" fill-opacity="0.3" stroke="#000" stroke-width="1.4" stroke-dasharray="4.6 3"/>
<line x1="107" x2="107" y1="163.5" y2="765" stroke="#728a97" stroke-width="1.8"/>
<line x1="1487.7" x2="1487.7" y1="163.5" y2="765" stroke="#06b56f" stroke-width="1.8"/>
<g class="ax" text-anchor="end"><text x="97" y="219">$60k</text><text x="97" y="440">$20k</text><text x="97" y="624">$8k</text><text x="97" y="763">$4k</text></g>
<g class="ax"><text x="1497.5" y="312">3B</text><text x="1497.5" y="462">0</text><text x="1497.5" y="612">-3B</text><text x="1497.5" y="762">-6B</text></g>
<g class="xl"><text x="190.7" y="786.2">Apr '20</text><text x="304.1" y="786.2">Jul '20</text><text x="418.9" y="786.2">Oct '20</text><text x="533.6" y="786.2">Jan '21</text><text x="646" y="786.2">Apr '21</text><text x="759.9" y="786.2">Jul '21</text><text x="874.7" y="786.2">Oct '21</text><text x="989.5" y="786.2">Jan '22</text><text x="1101.3" y="786.2">Apr '22</text><text x="1215.1" y="786.2">Jul '22</text><text x="1329.6" y="786.2">Oct '22</text><text x="1445.1" y="786.2">Jan '23</text></g>
<circle cx="99" cy="140.5" r="5" fill="#8a9ba3"/>
<text class="leg" x="108.5" y="144.5" textLength="104" lengthAdjust="spacingAndGlyphs">BTC: Price [USD]</text>
<circle cx="515.7" cy="140.5" r="5" fill="#06b56f"/>
<text class="leg" x="525.3" y="144.5" textLength="367.4" lengthAdjust="spacingAndGlyphs">BTC: Exchange Inflow Volume (Total) - All Exchanges [USD]</text>
<circle cx="931.8" cy="140.5" r="5" fill="#fa6060"/>
<text class="legoff" x="941.3" y="144.5" textLength="379" lengthAdjust="spacingAndGlyphs">BTC: Exchange Outflow Volume (Total) - All Exchanges [USD]</text>
<circle cx="99" cy="156.5" r="5" fill="#fa6060"/>
<text class="leg" x="108.5" y="160.5" textLength="265.5" lengthAdjust="spacingAndGlyphs">Exchange Outflow Volume (Total, Inverted)</text>
<circle cx="515.7" cy="156.5" r="5" fill="#000"/>
<text class="leg" x="525.3" y="160.5" textLength="255.7" lengthAdjust="spacingAndGlyphs">Exchange Inflow/Outflow Volumes (Total)</text>
<text class="a1 b" x="279" y="378.8" textLength="202.6" lengthAdjust="spacingAndGlyphs">Inflows and Outflows</text>
<text class="a1 b" x="279" y="401.5" textLength="123.4" lengthAdjust="spacingAndGlyphs">~$625M/day</text>
<text class="a1 i" x="279" y="424.1" textLength="125.4" lengthAdjust="spacingAndGlyphs">(2020 Levels)</text>
<text class="a2 b" x="1216.2" y="616.2" textLength="126.4" lengthAdjust="spacingAndGlyphs">Net Outflows</text>
<text class="a2 b" x="1216.4" y="639.3" textLength="166.6" lengthAdjust="spacingAndGlyphs">of ~$8M to $20M</text>
<text class="a2 i" x="1216.2" y="663.1" textLength="292.4" lengthAdjust="spacingAndGlyphs">(~1.5% of Total Exchange Flows)</text>
<polyline fill="none" stroke="#1818ff" stroke-width="1.4" points="1067.4,670.6 1364,670.6 1463.1,467.2"/>
<polyline fill="none" stroke="#1818ff" stroke-width="1.4" stroke-linejoin="miter" points="1457.3,469.2 1463.1,467.1 1464.7,472.8"/>
<text x="36" y="878.4" font-size="16" fill="#858585" stroke="#858585" stroke-width="0.25" textLength="284.6" lengthAdjust="spacingAndGlyphs">© 2023 Glassnode. All Rights Reserved.</text>
<text x="1432.9" y="880.6" font-size="29.2" fill="#111" stroke="#111" stroke-width="0.6" textLength="134.4" lengthAdjust="spacingAndGlyphs">glassnode</text>
</svg>
</body></html>
